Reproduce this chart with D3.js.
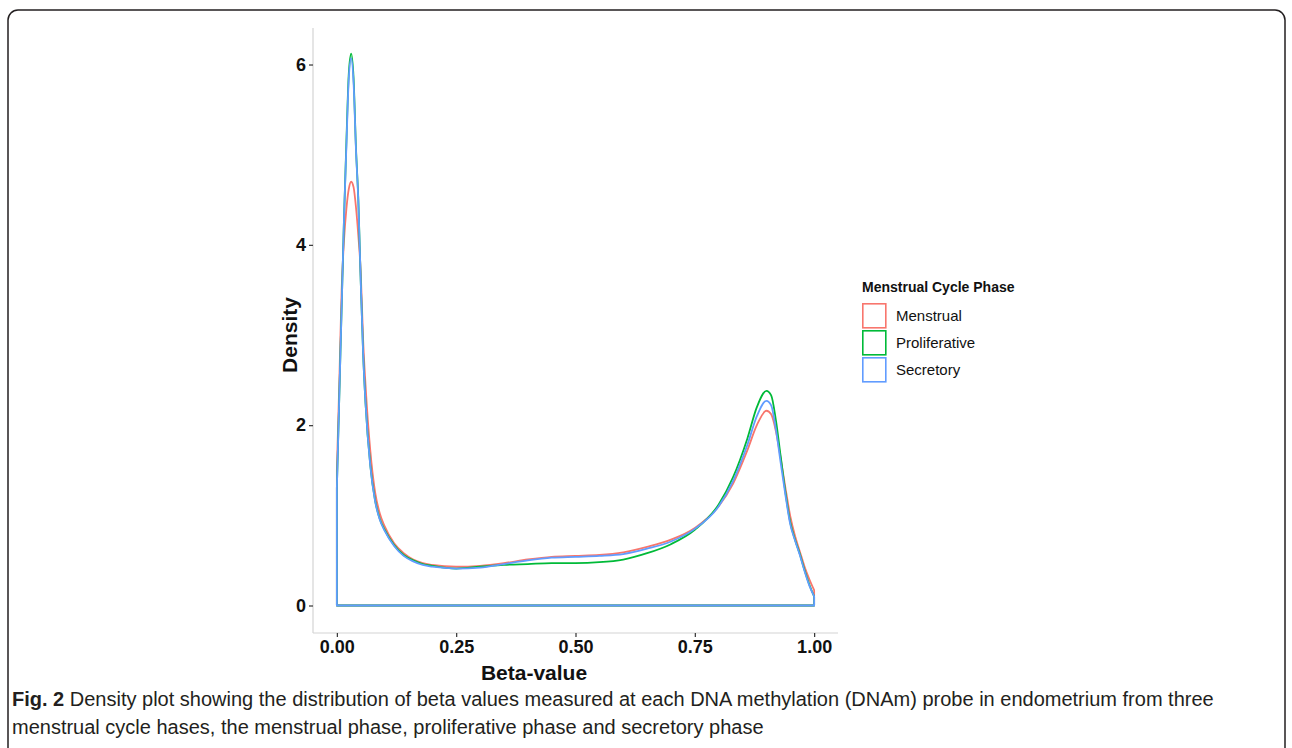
<!DOCTYPE html>
<html>
<head>
<meta charset="utf-8">
<script src="https://cdnjs.cloudflare.com/ajax/libs/d3/7.8.5/d3.min.js"></script>
<style>
  body { margin: 0; background: #fff; }
  svg { display: block; }
</style>
</head>
<body>
<svg id="chart" width="1292" height="748"></svg>
<script>
// beta-value grid and density
const betaX = [0, 0.005, 0.01, 0.015, 0.02, 0.025, 0.03, 0.035, 0.04, 0.045, 0.05, 0.055, 0.06, 0.07, 0.08, 0.09, 0.1,
  0.12, 0.14, 0.16, 0.18, 0.2, 0.25, 0.3, 0.35, 0.4, 0.45, 0.5, 0.55, 0.6, 0.65, 0.7, 0.75, 0.8, 0.83, 0.86, 0.88,
  0.9, 0.91, 0.92, 0.93, 0.94, 0.95, 0.96, 0.97, 0.98, 0.99, 1.0];

const menstrual = [1.5, 2.45, 3.5, 4.05, 4.4, 4.62, 4.7, 4.64, 4.42, 4.1, 3.7, 2.95, 2.45, 1.72, 1.26, 1.02, 0.88,
  0.69, 0.58, 0.51, 0.47, 0.45, 0.43, 0.44, 0.47, 0.51, 0.54, 0.55, 0.56, 0.59, 0.65, 0.73, 0.86, 1.1, 1.35, 1.72, 2.0,
  2.16, 2.12, 1.93, 1.63, 1.3, 0.99, 0.77, 0.6, 0.43, 0.29, 0.17];

const proliferative = [1.3, 2.3, 3.3, 4.3, 5.15, 5.9, 6.12, 5.85, 5.08, 4.5, 3.6, 2.8, 2.25, 1.56, 1.17, 0.96, 0.84,
  0.67, 0.56, 0.5, 0.46, 0.44, 0.41, 0.43, 0.45, 0.46, 0.47, 0.47, 0.48, 0.51, 0.58, 0.68, 0.84, 1.12, 1.42, 1.85, 2.2,
  2.38, 2.33, 2.05, 1.65, 1.25, 0.92, 0.73, 0.57, 0.39, 0.23, 0.1];

const secretory = [1.3, 2.3, 3.3, 4.3, 5.1, 5.85, 6.07, 5.8, 5.06, 4.48, 3.6, 2.8, 2.25, 1.55, 1.16, 0.95, 0.83,
  0.66, 0.55, 0.49, 0.45, 0.43, 0.41, 0.42, 0.46, 0.5, 0.53, 0.54, 0.55, 0.57, 0.63, 0.71, 0.85, 1.1, 1.38, 1.78, 2.1,
  2.27, 2.22, 1.95, 1.58, 1.22, 0.9, 0.72, 0.56, 0.38, 0.22, 0.1];

const phases = ['Menstrual', 'Proliferative', 'Secretory'];
const phaseColors = ['#F8766D', '#00BA38', '#619CFF'];
const xTicks = [0, 0.25, 0.5, 0.75, 1];
const yTicks = [0, 2, 4, 6];

const svg = d3.select('#chart');

// card frame, open at the bottom
svg.append('rect')
  .attr('x', 8).attr('y', 10)
  .attr('width', 1277).attr('height', 780)
  .attr('rx', 10)
  .attr('fill', 'none')
  .attr('stroke', '#231f20')
  .attr('stroke-width', 1.5);

// panel extents (ggplot 5% expansion)
const x = d3.scaleLinear().domain([-0.05, 1.05]).range([313, 838]);
const y = d3.scaleLinear().domain([-0.305, 6.405]).range([633, 28]);

// axis lines
svg.append('line')
  .attr('x1', x(-0.05)).attr('x2', x(-0.05))
  .attr('y1', y(6.405)).attr('y2', y(-0.305))
  .attr('stroke', '#d4d4d4').attr('stroke-width', 1.2);
svg.append('line')
  .attr('x1', x(-0.05)).attr('x2', x(1.05))
  .attr('y1', y(-0.305)).attr('y2', y(-0.305))
  .attr('stroke', '#d4d4d4').attr('stroke-width', 1.2);

const xAxis = d3.axisBottom(x).tickValues(xTicks).tickFormat(d3.format('.2f')).tickSize(4).tickPadding(3);
const yAxis = d3.axisLeft(y).tickValues(yTicks).tickFormat(d3.format('d')).tickSize(4).tickPadding(3);

const gx = svg.append('g').attr('transform', 'translate(0,' + y(-0.305) + ')').call(xAxis);
const gy = svg.append('g').attr('transform', 'translate(' + x(-0.05) + ',0)').call(yAxis);

[gx, gy].forEach((g) => {
  g.select('.domain').remove();
  g.selectAll('.tick line').attr('stroke', '#333').attr('stroke-width', 1.2);
  g.selectAll('.tick text')
    .attr('fill', '#111')
    .style('font-family', '"Liberation Sans", Arial, sans-serif')
    .style('font-weight', 'bold')
    .style('font-size', '18px');
});

// density outlines
const area = d3.area()
  .x((d) => x(d[0]))
  .y0(y(0))
  .y1((d) => y(d[1]))
  .curve(d3.curveMonotoneX);

[menstrual, proliferative, secretory].forEach((vals, i) => {
  const pts = betaX.map((b, j) => [b, vals[j]]);
  svg.append('path')
    .datum(pts)
    .attr('d', area)
    .attr('fill', 'none')
    .attr('stroke', phaseColors[i])
    .attr('stroke-width', 1.8)
    .attr('stroke-linejoin', 'round');
});

// axis titles
svg.append('text')
  .attr('x', 534).attr('y', 680)
  .attr('text-anchor', 'middle')
  .style('font-family', '"Liberation Sans", Arial, sans-serif')
  .style('font-weight', 'bold')
  .style('font-size', '21px')
  .attr('fill', '#111')
  .text('Beta-value');

svg.append('text')
  .attr('transform', 'translate(297,335) rotate(-90)')
  .attr('text-anchor', 'middle')
  .style('font-family', '"Liberation Sans", Arial, sans-serif')
  .style('font-weight', 'bold')
  .style('font-size', '21px')
  .attr('fill', '#111')
  .text('Density');

// legend
const legend = svg.append('g').attr('transform', 'translate(862,292)');
legend.append('text')
  .style('font-family', '"Liberation Sans", Arial, sans-serif')
  .style('font-weight', 'bold')
  .style('font-size', '14px')
  .attr('fill', '#111')
  .text('Menstrual Cycle Phase');

const items = legend.selectAll('g.item').data(phases).enter().append('g')
  .attr('class', 'item')
  .attr('transform', (d, i) => 'translate(0,' + (11 + i * 27) + ')');
items.append('rect')
  .attr('x', 0.8).attr('y', 0.8)
  .attr('width', 23).attr('height', 24)
  .attr('fill', '#fff')
  .attr('stroke', (d, i) => phaseColors[i])
  .attr('stroke-width', 1.6);
items.append('text')
  .attr('x', 34).attr('y', 18)
  .style('font-family', '"Liberation Sans", Arial, sans-serif')
  .style('font-size', '15px')
  .attr('fill', '#111')
  .text((d) => d);

// caption
const cap = svg.append('g')
  .style('font-family', '"Liberation Sans Narrow", "Arial Narrow", "Liberation Sans", sans-serif')
  .style('font-size', '20px')
  .attr('fill', '#231f20');
const line1 = cap.append('text').attr('x', 12).attr('y', 706);
line1.append('tspan').style('font-weight', 'bold').text('Fig. 2');
line1.append('tspan').text(' Density plot showing the distribution of beta values measured at each DNA methylation (DNAm) probe in endometrium from three');
cap.append('text').attr('x', 12).attr('y', 734)
  .text('menstrual cycle hases, the menstrual phase, proliferative phase and secretory phase');
</script>
</body>
</html>
